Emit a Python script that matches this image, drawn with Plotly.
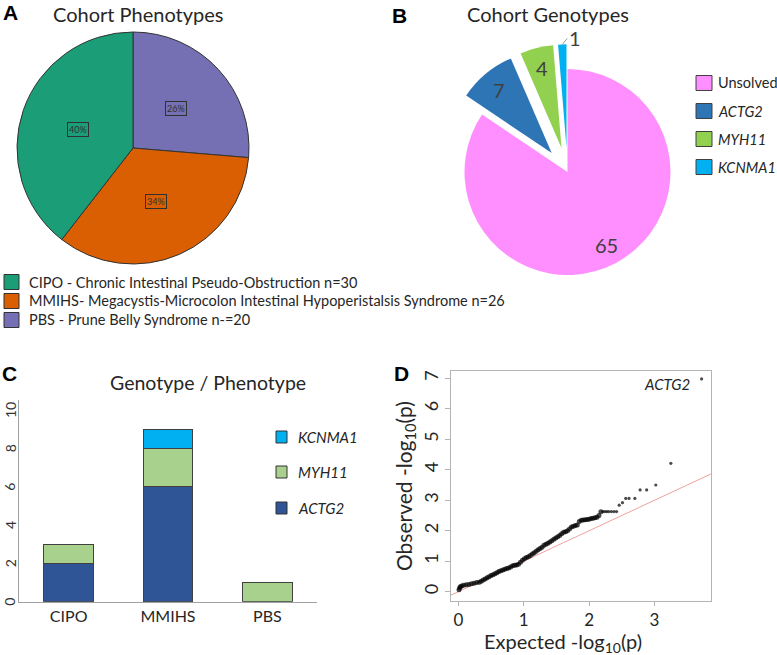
import math
import plotly.graph_objects as go

W, H = 777, 655

# ---------------- data ----------------
# Panel A: cohort phenotypes
phen_legend = [
    "CIPO - Chronic Intestinal Pseudo-Obstruction n=30",
    "MMIHS- Megacystis-Microcolon Intestinal Hypoperistalsis Syndrome n=26",
    "PBS - Prune Belly Syndrome n-=20",
]
phen_names = ["CIPO", "MMIHS", "PBS"]
phen_counts = [30, 26, 20]
phen_pct_labels = ["40%", "34%", "26%"]

# Panel B: cohort genotypes
geno_names = ["Unsolved", "ACTG2", "MYH11", "KCNMA1"]
geno_counts = [65, 7, 4, 1]

# Panel C: genotype / phenotype
gp_categories = ["CIPO", "MMIHS", "PBS"]
gp_actg2 = [2, 6, 0]
gp_myh11 = [1, 2, 1]
gp_kcnma1 = [0, 1, 0]
gp_ticks = [0, 2, 4, 6, 8, 10]

# Panel D: QQ plot (expected vs observed -log10 p)
qq_expected = [0.01, 0.02, 0.03, 0.05, 0.08, 0.12, 0.16, 0.20, 0.24, 0.28,
               0.32, 0.35, 0.38, 0.41, 0.44, 0.47, 0.50, 0.53, 0.56, 0.59,
               0.62, 0.65, 0.68, 0.71, 0.74, 0.77, 0.80, 0.83, 0.86, 0.89,
               0.92, 0.95, 0.98, 1.01, 1.04, 1.07, 1.10, 1.13, 1.16, 1.19,
               1.22, 1.25, 1.28, 1.31, 1.34, 1.37, 1.40, 1.43, 1.46, 1.49,
               1.52, 1.55, 1.58, 1.61, 1.64, 1.67, 1.70, 1.73, 1.76, 1.79,
               1.82, 1.85, 1.88, 1.91, 1.94, 1.97, 2.00, 2.03, 2.06, 2.09,
               2.12, 2.15, 2.18, 2.21, 2.24, 2.27, 2.30, 2.34, 2.38, 2.42,
               2.46, 2.51, 2.56, 2.61, 2.70, 2.78, 2.88, 3.02, 3.25, 3.72]
qq_observed = [0.06, 0.12, 0.16, 0.19, 0.21, 0.23, 0.24, 0.26, 0.28, 0.30,
               0.31, 0.34, 0.38, 0.42, 0.46, 0.49, 0.53, 0.56, 0.59, 0.62,
               0.66, 0.69, 0.71, 0.74, 0.76, 0.78, 0.81, 0.85, 0.87, 0.88,
               0.90, 0.97, 1.03, 1.08, 1.12, 1.15, 1.19, 1.24, 1.28, 1.33,
               1.38, 1.42, 1.46, 1.52, 1.56, 1.59, 1.63, 1.67, 1.72, 1.76,
               1.80, 1.84, 1.90, 1.95, 1.97, 2.00, 2.06, 2.12, 2.15, 2.17,
               2.19, 2.30, 2.34, 2.35, 2.36, 2.37, 2.38, 2.40, 2.41, 2.43,
               2.44, 2.50, 2.62, 2.63, 2.63, 2.63, 2.63, 2.63, 2.63, 2.63,
               2.84, 2.92, 3.06, 3.06, 3.06, 3.34, 3.34, 3.50, 4.21, 6.98]
qq_label = "ACTG2"

# ---------------- styles ----------------
phen_colors = ["#1b9e77", "#d95f02", "#7570b3"]
geno_colors = ["#ff8fff", "#2e75b6", "#92d050", "#00b0f0"]
gp_colors = {"ACTG2": "#2f5597", "MYH11": "#a9d18e", "KCNMA1": "#00b0f0"}
FONT = "Lato, 'Open Sans', sans-serif"
TXT = "#262626"


def fx(p):
    return p / W


def fy(p):
    return 1 - p / H


fig = go.Figure()
ann = []
shapes = []


def text(x, y, s, size, color=TXT, xanchor="center", family=FONT, **kw):
    d = dict(x=fx(x), y=fy(y), xref="paper", yref="paper", text=s, showarrow=False,
             xanchor=xanchor, yanchor="middle",
             font=dict(family=family, size=size, color=color))
    d.update(kw)
    ann.append(d)


# ---------------- Panel A ----------------
A_cx, A_cy, A_r = 133, 148, 116
# drawn clockwise from 12 o'clock in reverse order (PBS, MMIHS, CIPO)
fig.add_trace(go.Pie(
    labels=phen_names[::-1], values=phen_counts[::-1], sort=False,
    direction="clockwise", rotation=0,
    marker=dict(colors=phen_colors[::-1], line=dict(color="#333333", width=1)),
    textinfo="none", hoverinfo="label+percent", showlegend=False,
    domain=dict(x=[fx(A_cx - A_r), fx(A_cx + A_r)], y=[fy(A_cy + A_r), fy(A_cy - A_r)]),
))
tot = sum(phen_counts)
cum = 0
for v, lab in zip(phen_counts[::-1], phen_pct_labels[::-1]):
    mid = (cum + v / 2) / tot * 2 * math.pi
    cum += v
    text(A_cx + math.sin(mid) * A_r * 0.5, A_cy - math.cos(mid) * A_r * 0.5, lab, 9,
         color="#303030", bordercolor="#303030", borderwidth=1, borderpad=1)

text(138, 14, "Cohort Phenotypes", 20)
# legend A
for i, (lab, col) in enumerate(zip(phen_legend, phen_colors)):
    cy = 282 + i * 19
    shapes.append(dict(type="rect", xref="paper", yref="paper",
                       x0=fx(4), x1=fx(19), y0=fy(cy + 7.5), y1=fy(cy - 7.5),
                       fillcolor=col, line=dict(color="#333333", width=1)))
    text(27, cy, lab, 14.5, xanchor="left")

# ---------------- Panel B ----------------
B_cx, B_cy, B_r = 567.5, 172, 103
pull_amt = 0.24
pulls = [0] + [pull_amt] * (len(geno_counts) - 1)
half = B_r * (1 + max(pulls))
fig.add_trace(go.Pie(
    labels=geno_names, values=geno_counts, sort=False,
    direction="clockwise", rotation=0, pull=pulls,
    marker=dict(colors=geno_colors, line=dict(color="white", width=0)),
    textinfo="none", hoverinfo="label+value", showlegend=False,
    domain=dict(x=[fx(B_cx - half), fx(B_cx + half)], y=[fy(B_cy + half), fy(B_cy - half)]),
))
gtot = sum(geno_counts)
cum = 0
for i, v in enumerate(geno_counts):
    mid = (cum + v / 2) / gtot * 2 * math.pi
    cum += v
    sx, sy = math.sin(mid), -math.cos(mid)
    if v / gtot > 0.03:
        rr = (pulls[i] + 0.8) * B_r
        text(B_cx + sx * rr, B_cy + sy * rr, str(v), 20, color="#404040")
    else:
        rr = (pulls[i] + 1.0) * B_r
        ann.append(dict(x=fx(B_cx + sx * rr), y=fy(B_cy + sy * rr), xref="paper", yref="paper",
                        text=str(v), showarrow=True, arrowhead=0, arrowwidth=1,
                        arrowcolor="#9a9a9a", ax=5, ay=-6, xanchor="left", yanchor="middle",
                        font=dict(family=FONT, size=20, color="#404040")))

text(548, 14, "Cohort Genotypes", 20)
leg_b_y = [83, 111, 139, 167]
for i, (lab, col) in enumerate(zip(geno_names, geno_colors)):
    cy = leg_b_y[i]
    shapes.append(dict(type="rect", xref="paper", yref="paper",
                       x0=fx(696), x1=fx(712), y0=fy(cy + 7.5), y1=fy(cy - 7.5),
                       fillcolor=col, line=dict(color="#404040", width=1)))
    text(716, cy, lab if i == 0 else "<i>%s</i>" % lab, 14.5, xanchor="left")

# ---------------- Panel C ----------------
def nz(lst):
    return [v if v else None for v in lst]


for name, vals in [("ACTG2", gp_actg2), ("MYH11", gp_myh11), ("KCNMA1", gp_kcnma1)]:
    fig.add_trace(go.Bar(
        x=gp_categories, y=nz(vals), name=name, width=0.5,
        marker=dict(color=gp_colors[name], line=dict(color="#404040", width=1)),
        xaxis="x", yaxis="y", showlegend=False,
    ))

C_y0, C_ppu = 601.7, 19.17
C_top = 10.5
# rotated y tick labels of panel C, placed on the y axis scale
for t in gp_ticks:
    ann.append(dict(x=fx(10), y=t, xref="paper", yref="y", text=str(t), textangle=-90,
                    showarrow=False, xanchor="center", yanchor="middle",
                    font=dict(family=FONT, size=14, color="#333333")))
text(208, 383, "Genotype / Phenotype", 19.5)
leg_c = [("KCNMA1", 437), ("MYH11", 472), ("ACTG2", 508)]
for name, cy in leg_c:
    shapes.append(dict(type="rect", xref="paper", yref="paper",
                       x0=fx(276), x1=fx(287), y0=fy(cy + 6), y1=fy(cy - 6),
                       fillcolor=gp_colors[name], line=dict(color="#333333", width=1)))
    text(296, cy, "<i>%s</i>" % name, 15, xanchor="left")

# ---------------- Panel D ----------------
D_xr = [-0.112, 3.864]
D_yr = [-0.305, 7.25]
fig.add_trace(go.Scatter(
    x=D_xr, y=D_xr, mode="lines", line=dict(color="#f0a0a0", width=1),
    xaxis="x2", yaxis="y2", showlegend=False, hoverinfo="skip",
))
sizes = [5 if e < 2.2 else 3.2 for e in qq_expected]
fig.add_trace(go.Scatter(
    x=qq_expected, y=qq_observed, mode="markers",
    marker=dict(color="black", size=sizes, line=dict(width=0)),
    xaxis="x2", yaxis="y2", showlegend=False,
))
ann.append(dict(x=3.57, y=6.82, xref="x2", yref="y2", text="<i>%s</i>" % qq_label,
                xanchor="right", yanchor="middle", showarrow=False,
                font=dict(family=FONT, size=15, color=TXT)))
text(405, 486, "Observed -log<sub>10</sub>(p)", 21, textangle=-90)
text(563, 642, "Expected -log<sub>10</sub>(p)", 20)

# panel letters
for lab, (lx, ly) in {"A": (10, 12), "B": (399, 15), "C": (9, 373), "D": (401, 373)}.items():
    text(lx, ly, "<b>%s</b>" % lab, 21, color="black", family="Liberation Sans, Arial")

fig.update_layout(
    width=W, height=H, margin=dict(l=0, r=0, t=0, b=0),
    paper_bgcolor="white", plot_bgcolor="white",
    barmode="stack", showlegend=False,
    annotations=ann, shapes=shapes,
    xaxis=dict(domain=[fx(19), fx(317)], range=[-0.5, 2.5], showline=True, linecolor="#a0a0a0",
               linewidth=1, showgrid=False, zeroline=False, ticks="", automargin=False,
               tickfont=dict(family=FONT, size=16, color=TXT), anchor="y"),
    yaxis=dict(domain=[fy(C_y0), fy(C_y0 - C_top * C_ppu)], range=[0, C_top], showline=True,
               linecolor="#a0a0a0", linewidth=1, showgrid=False, zeroline=False, ticks="",
               tickvals=gp_ticks, showticklabels=False, automargin=False, anchor="x"),
    xaxis2=dict(domain=[fx(451), fx(711)], range=D_xr, showline=True, mirror=True,
                linecolor="#b4b4b4", linewidth=1, showgrid=False, zeroline=False,
                ticks="outside", ticklen=4, tickcolor="#b4b4b4", tickvals=[0, 1, 2, 3],
                automargin=False, tickfont=dict(family=FONT, size=17, color=TXT), anchor="y2"),
    yaxis2=dict(domain=[fy(601), fy(370.7)], range=D_yr, showline=True, mirror=True,
                linecolor="#b4b4b4", linewidth=1, showgrid=False, zeroline=False,
                ticks="outside", ticklen=5, tickcolor="#b4b4b4", tickvals=list(range(8)),
                tickangle=-90, automargin=False,
                tickfont=dict(family=FONT, size=18, color=TXT), anchor="x2"),
)

fig.write_html("out.html", config={"displayModeBar": False},
               post_script="document.body.style.margin='0px';")
